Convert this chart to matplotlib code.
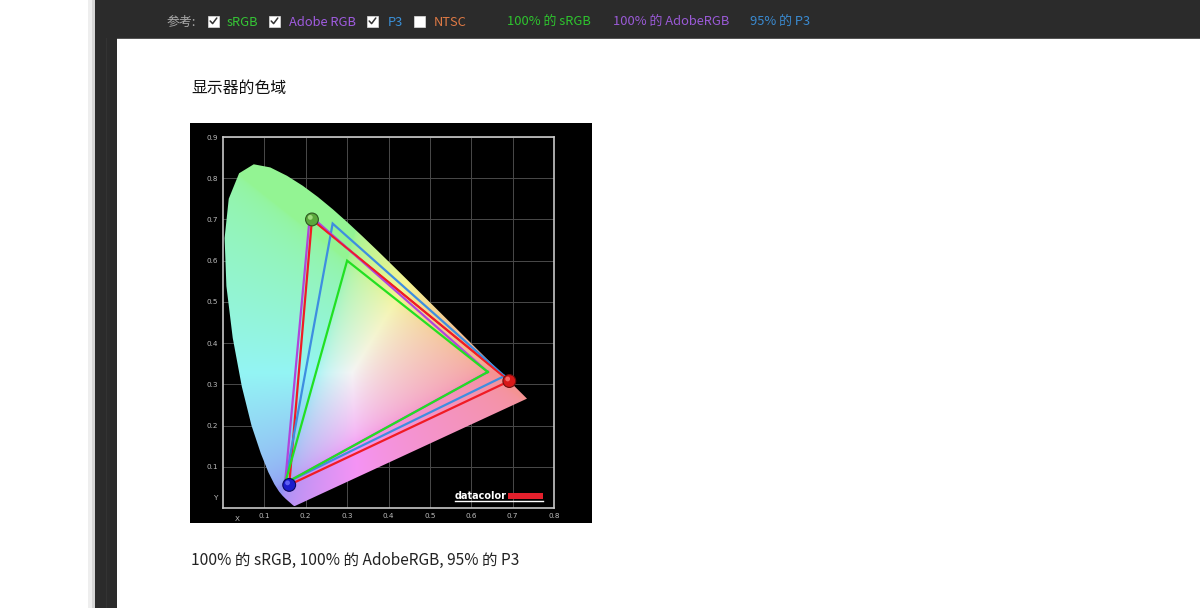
import numpy as np
import matplotlib
matplotlib.use('Agg')
import matplotlib.pyplot as plt
from matplotlib.patches import Rectangle, Polygon

plt.rcParams['font.family'] = ['Noto Sans CJK SC', 'DejaVu Sans']

# ---------------- data ----------------
# CIE 1931 spectral locus (380..700 nm)
locus_x = [0.1741, 0.1740, 0.1738, 0.1736, 0.1733, 0.1730, 0.1726, 0.1721, 0.1714, 0.1703,
           0.1689, 0.1669, 0.1644, 0.1611, 0.1566, 0.1510, 0.1440, 0.1355, 0.1241, 0.1096,
           0.0913, 0.0687, 0.0454, 0.0235, 0.0082, 0.0039, 0.0139, 0.0389, 0.0743, 0.1142,
           0.1547, 0.1929, 0.2296, 0.2658, 0.3016, 0.3373, 0.3731, 0.4087, 0.4441, 0.4788,
           0.5125, 0.5448, 0.5752, 0.6029, 0.6270, 0.6482, 0.6658, 0.6801, 0.6915, 0.7006,
           0.7079, 0.7140, 0.7190, 0.7230, 0.7260, 0.7300, 0.7320, 0.7334, 0.7347]
locus_y = [0.0050, 0.0050, 0.0049, 0.0049, 0.0048, 0.0048, 0.0048, 0.0048, 0.0051, 0.0058,
           0.0069, 0.0086, 0.0109, 0.0138, 0.0177, 0.0227, 0.0297, 0.0399, 0.0578, 0.0868,
           0.1327, 0.2007, 0.2950, 0.4127, 0.5384, 0.6548, 0.7502, 0.8120, 0.8338, 0.8262,
           0.8059, 0.7816, 0.7543, 0.7243, 0.6923, 0.6589, 0.6245, 0.5896, 0.5547, 0.5202,
           0.4866, 0.4544, 0.4242, 0.3965, 0.3725, 0.3514, 0.3340, 0.3197, 0.3083, 0.2993,
           0.2920, 0.2859, 0.2809, 0.2770, 0.2740, 0.2700, 0.2680, 0.2666, 0.2653]

# gamut triangles (R, G, B)
srgb_x = [0.64, 0.30, 0.15]
srgb_y = [0.33, 0.60, 0.06]
adobe_x = [0.64, 0.21, 0.15]
adobe_y = [0.33, 0.71, 0.06]
p3_x = [0.68, 0.265, 0.15]
p3_y = [0.32, 0.69, 0.06]
display_x = [0.692, 0.215, 0.160]
display_y = [0.308, 0.700, 0.056]

x_ticks = [0.1, 0.2, 0.3, 0.4, 0.5, 0.6, 0.7, 0.8]
x_tick_labels = ['0.1', '0.2', '0.3', '0.4', '0.5', '0.6', '0.7', '0.8']
y_ticks = [0.1, 0.2, 0.3, 0.4, 0.5, 0.6, 0.7, 0.8, 0.9]
y_tick_labels = ['0.1', '0.2', '0.3', '0.4', '0.5', '0.6', '0.7', '0.8', '0.9']

ref_labels = ['sRGB', 'Adobe RGB', 'P3', 'NTSC']
ref_checked = [True, True, True, False]
coverage_labels = ['100% 的 sRGB', '100% 的 AdobeRGB', '95% 的 P3']
title_text = '显示器的色域'
caption_text = '100% 的 sRGB, 100% 的 AdobeRGB, 95% 的 P3'

# ---------------- figure / page ----------------
W, H = 1200, 608
fig = plt.figure(figsize=(12, 6.08), dpi=100)
fig.patch.set_facecolor('white')
page = fig.add_axes([0, 0, 1, 1])
page.set_xlim(0, W)
page.set_ylim(H, 0)
page.axis('off')

# side / top chrome
page.add_patch(Rectangle((88, 0), 4, H, color='#eeeeee', lw=0))
page.add_patch(Rectangle((92, 0), 3, H, color='#d6d6d6', lw=0))
page.add_patch(Rectangle((95, 0), 22, H, color='#2b2b2b', lw=0))
page.add_patch(Rectangle((106, 0), 1, H, color='#333333', lw=0))
page.add_patch(Rectangle((95, 0), W - 95, 38, color='#2b2b2b', lw=0))
page.add_patch(Rectangle((117, 38), W - 117, 1, color='#555555', lw=0))

# top bar legend
page.text(167, 22, '参考:', fontsize=9.3, color='#a8a8a8', va='center', ha='left')
box_x = [208, 269, 367, 414]
lab_x = [227, 289, 388, 434]
ref_colors = ['#35c535', '#a05ce0', '#3a90d8', '#e07a45']
for bx, lx, lab, chk, col in zip(box_x, lab_x, ref_labels, ref_checked, ref_colors):
    page.add_patch(Rectangle((bx, 15.5), 11, 11, facecolor='white', edgecolor='#dddddd', lw=0.5))
    if chk:
        page.plot([bx + 2.2, bx + 4.6, bx + 8.8], [21, 23.6, 18], color='#333333', lw=1.1,
                  solid_capstyle='round')
    page.text(lx, 22, lab, fontsize=9.3, color=col, va='center', ha='left')

cov_x = [507, 613, 750]
cov_colors = ['#2ec42e', '#9a5ad6', '#3a8ad0']
for cx, lab, col in zip(cov_x, coverage_labels, cov_colors):
    page.text(cx, 22, lab, fontsize=9.3, color=col, va='center', ha='left')

# title & caption
page.text(191, 88, title_text, fontsize=11.4, color='#111111', va='center', ha='left')
page.text(191, 560, caption_text, fontsize=11.15, color='#222222', va='center', ha='left')

# black image background
page.add_patch(Rectangle((190, 123), 402, 400, color='black', lw=0))

# ---------------- chromaticity chart ----------------
ax = fig.add_axes([223 / W, (H - 508) / H, (554 - 223) / W, (508 - 137) / H])
ax.set_facecolor('black')
ax.set_xlim(0, 0.8)
ax.set_ylim(0, 0.9)
ax.set_axisbelow(True)
ax.grid(True, color='#4a4a4a', lw=0.7)
ax.set_xticks(x_ticks)
ax.set_xticklabels(x_tick_labels)
ax.set_yticks(y_ticks)
ax.set_yticklabels(y_tick_labels)
ax.tick_params(length=0, labelsize=5.2, labelcolor='#bdbdbd', pad=3.5)
for t in ax.get_xticklabels() + ax.get_yticklabels():
    t.set_family('DejaVu Sans')
for s in ax.spines.values():
    s.set_color('#c8c8c8')
    s.set_linewidth(1.2)
ax.text(0.034, -0.02, 'X', fontsize=5.2, color='#bdbdbd', ha='center', va='top',
        family='DejaVu Sans', clip_on=False)
ax.text(-0.01, 0.024, 'Y', fontsize=5.2, color='#bdbdbd', ha='right', va='center',
        family='DejaVu Sans', clip_on=False)

# colour fill of the horseshoe
nx, ny = 500, 560
gx = np.linspace(0.0005, 0.8, nx)
gy = np.linspace(0.0005, 0.9, ny)
XX, YY = np.meshgrid(gx, gy)
Xc = XX / YY
Yc = np.ones_like(XX)
Zc = (1 - XX - YY) / YY
M = np.array([[3.2406, -1.5372, -0.4986],
              [-0.9689, 1.8758, 0.0415],
              [0.0557, -0.2040, 1.0570]])
rgb = np.einsum('ij,jkl->kli', M, np.stack([Xc, Yc, Zc]))
rgb = np.clip(rgb, 0, None)
rgb = rgb / np.maximum(rgb.max(axis=2, keepdims=True), 1e-9)
rgb = rgb ** (1 / 2.2)
img = np.clip(0.58 + 0.38 * rgb, 0, 1)

im = ax.imshow(img, extent=[0, 0.8, 0, 0.9], origin='lower', aspect='auto',
               interpolation='bilinear', zorder=1)
locus_poly = Polygon(np.column_stack([locus_x, locus_y]), closed=True,
                     transform=ax.transData, facecolor='none', edgecolor='none')
ax.add_patch(locus_poly)
im.set_clip_path(locus_poly)

def tri(xs, ys, color, z):
    ax.plot(list(xs) + [xs[0]], list(ys) + [ys[0]], color=color, lw=1.6, zorder=z,
            solid_joinstyle='miter')

tri(display_x, display_y, '#f01c24', 3)
tri(p3_x, p3_y, '#3e8ee0', 3.1)
tri(adobe_x, adobe_y, '#b044dc', 3.2)
tri(srgb_x, srgb_y, '#22e022', 3.3)
# display G->R edge over the purple
ax.plot(display_x[:2], display_y[:2], color='#f01c24', lw=1.2, zorder=3.4)

# measured primaries as balls
ball_face = ['#d81818', '#5aa83c', '#1c1ccc']
ball_edge = ['#701010', '#2d5a20', '#0a0a60']
ax.scatter(display_x, display_y, s=85, c=ball_face, edgecolors=ball_edge, linewidths=0.8,
           zorder=6)
ax.scatter(np.array(display_x) - 0.004, np.array(display_y) + 0.005, s=12,
           c=['#ff8080', '#b0e890', '#7070ff'], linewidths=0, zorder=7, alpha=0.8)

# datacolor logo (page pixel coordinates, drawn on top of the chart)
ax.text(455, 496.3, 'datacolor', fontsize=7.0, fontweight='bold', color='white',
        family='DejaVu Sans', va='center', ha='left', zorder=8, transform=page.transData)
ax.plot([455, 543], [501, 501], color='white', lw=1.0, zorder=8, transform=page.transData,
        clip_on=False)
ax.add_patch(Rectangle((508, 492.5), 35, 6, color='#e3202c', lw=0, zorder=8,
                       transform=page.transData, clip_on=False))

fig.savefig('out.png', dpi=100)
